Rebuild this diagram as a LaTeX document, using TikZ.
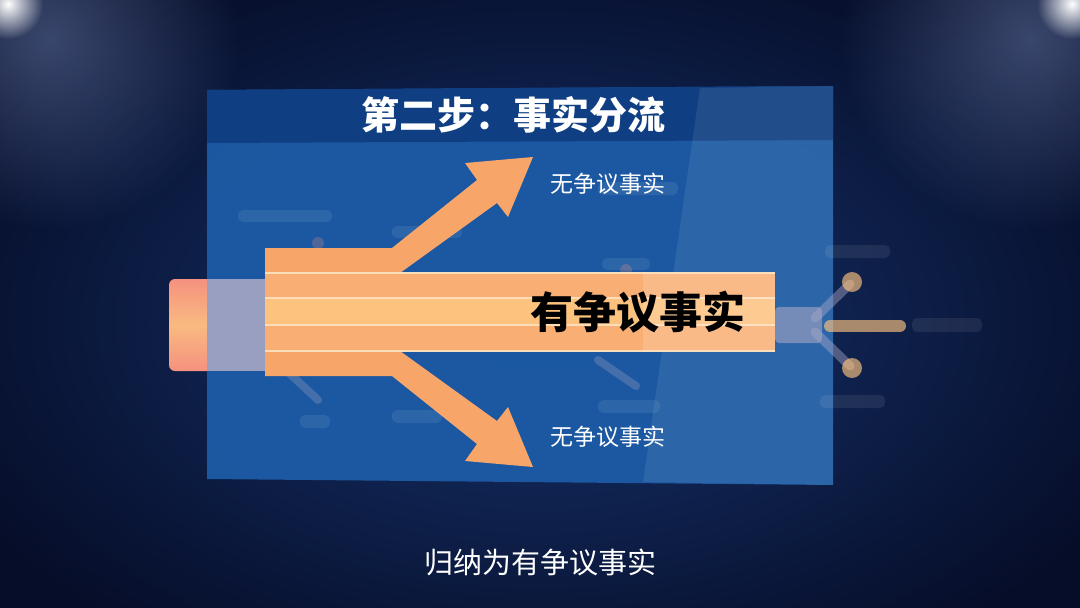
\documentclass[tikz,border=0pt]{standalone}
\usepackage{fontspec}
\setmainfont{Noto Sans CJK SC}
\usetikzlibrary{positioning,fadings}

\definecolor{bgdark}{HTML}{060D28}
\definecolor{bgmid}{HTML}{17346E}
\definecolor{haze}{HTML}{9AB2EC}
\definecolor{panelblue}{HTML}{1C5AA4}
\definecolor{paneltop}{HTML}{0F3E82}
\definecolor{bandorange}{HTML}{F8A56A}
\definecolor{bandpeach}{HTML}{F9AF74}
\definecolor{bandyellow}{HTML}{FDC37E}
\definecolor{bandline}{HTML}{FDDCB8}
\definecolor{barpink}{HTML}{F5917F}
\definecolor{barlight}{HTML}{F9BA80}
\definecolor{barlav}{HTML}{A7A7C5}

\tikzfading[name=glow, inner color=transparent!0, outer color=transparent!100]

\tikzstyle{title} = [font=\fontsize{38}{38}\selectfont\bfseries, text=white]
\tikzstyle{bandtext} = [font=\fontsize{43}{43}\selectfont\bfseries, text=black]
\tikzstyle{side} = [font=\fontsize{23}{23}\selectfont, text=white]
\tikzstyle{caption} = [font=\fontsize{29}{29}\selectfont, text=white]
\tikzstyle{arm} = [fill=bandorange]
\tikzstyle{blur} = [fill=white, opacity=0.08, rounded corners=5pt]
\tikzstyle{spot} = [fill=haze, path fading=glow]

\begin{document}
\begin{tikzpicture}[x=1pt, y=-1pt]
\useasboundingbox (0,0) rectangle (1080,608);

% background and spotlights
\fill[bgdark] (0,0) rectangle (1080,608);
\fill[bgmid, path fading=glow] (540,320) ellipse (660 and 400);
\fill[spot, opacity=0.35] (50,40) circle (190);
\fill[spot, opacity=0.35] (1030,40) circle (190);
\fill[spot, fill=white] (8,4) circle (35);
\fill[spot, fill=white] (1072,4) circle (35);

% left bar behind the panel
\shade[top color=barpink, bottom color=barpink, middle color=barlight, rounded corners=6pt]
  (169,279) rectangle (215,371);

% panel
\fill[panelblue, opacity=0.97] (207,90) -- (833,86) -- (833,485) -- (207,479) -- cycle;
\fill[paneltop] (207,90) -- (833,86) -- (833,140) -- (207,143) -- cycle;

% faint blurred items in the panel
\fill[blur] (238,210) rectangle (332,222);
\fill[blur] (392,226) rectangle (462,238);
\fill[blur] (598,182) rectangle (678,195);
\fill[blur] (602,258) rectangle (650,270);
\fill[blur] (300,415) rectangle (330,428);
\fill[blur] (392,410) rectangle (442,423);
\fill[blur] (598,400) rectangle (660,413);
\fill[barpink, opacity=0.25] (318,243) circle (6);
\fill[barpink, opacity=0.25] (626,270) circle (6);
\draw[barlav, opacity=0.3, line width=8pt, line cap=round] (288,372) -- (318,400);
\draw[barlav, opacity=0.3, line width=8pt, line cap=round] (598,360) -- (636,386);

% lighter glass on the right
\fill[white, opacity=0.08] (700,88) -- (833,86) -- (833,485) -- (643,482) -- cycle;

% left bar seen through the panel
\fill[barlav, opacity=0.9] (207,279) rectangle (265,371);

% upper and lower arms
\coordinate (fork) at (265,312);
\fill[arm] (265,248) -- (392,248) -- (477,180) -- (465,163) -- (533,157) -- (508,217)
  -- (497,203) -- (400,273) -- (265,273) -- cycle;
\fill[arm] (265,376) -- (392,376) -- (477,444) -- (465,461) -- (533,467) -- (508,407)
  -- (497,421) -- (400,351) -- (265,351) -- cycle;

% main band
\fill[bandpeach] (265,273) rectangle (775,298);
\fill[bandyellow] (265,298) rectangle (775,325);
\fill[bandpeach] (265,325) rectangle (775,351);
\foreach \y in {273,298,325,351}
  \draw[bandline, line width=1.6pt] (265,\y) -- (775,\y);
\fill[white, opacity=0.15] (643,273) rectangle (775,351);

% blurred arrows past the band
\fill[barlav, opacity=0.6, rounded corners=4pt] (775,307) rectangle (822,343);
\draw[barlav, opacity=0.45, line width=9pt, line cap=round] (815,318) -- (850,284);
\draw[barlav, opacity=0.45, line width=9pt, line cap=round] (815,332) -- (850,366);
\draw[bandyellow, opacity=0.65, line width=12pt, line cap=round] (830,326) -- (900,326);
\fill[bandyellow, opacity=0.65] (852,282) circle (10);
\fill[bandyellow, opacity=0.65] (852,368) circle (10);
\fill[blur] (825,245) rectangle (890,258);
\fill[blur] (912,318) rectangle (982,332);
\fill[blur] (820,395) rectangle (885,408);

% texts
\node (head) [title] at (513,115) {第二步：事实分流};
\node (disputed) [bandtext] at (638,312) {有争议事实};
\node (upperlabel) [side] at (608,184) {无争议事实};
\node (lowerlabel) [side, below=253pt of upperlabel.center, anchor=center] {无争议事实};
\node (summary) [caption] at (540,562) {归纳为有争议事实};

\end{tikzpicture}
\end{document}
